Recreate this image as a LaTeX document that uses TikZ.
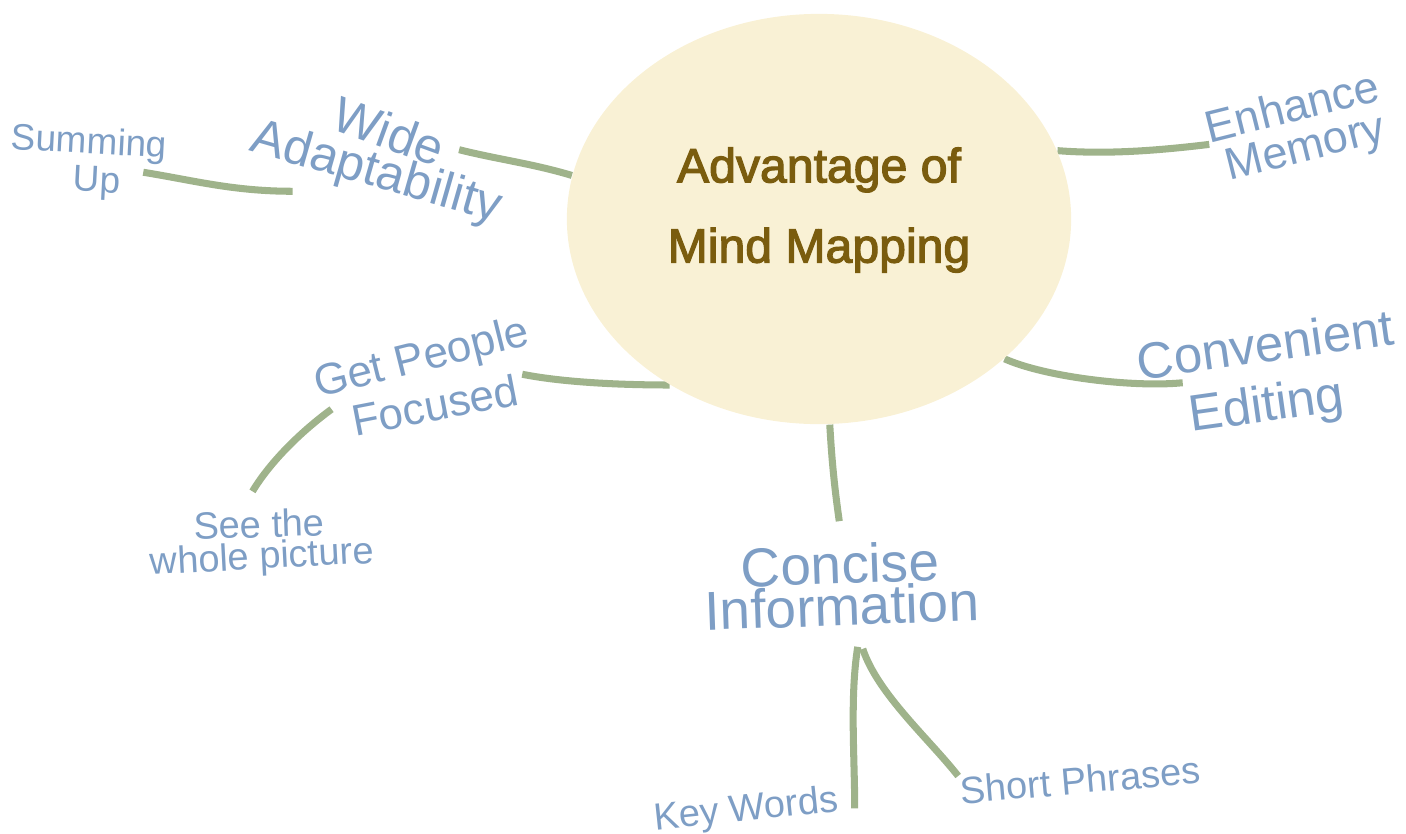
\documentclass[tikz,border=0pt]{standalone}
\usepackage{fontspec}
\setmainfont{Liberation Sans}
\newfontfamily\titlefont{Liberation Sans}[FakeBold=2.5]
\usetikzlibrary{shapes.geometric, backgrounds}
\definecolor{labelblue}{RGB}{126,158,197}
\definecolor{linkgreen}{RGB}{159,179,139}
\definecolor{hubfill}{RGB}{249,241,213}
\definecolor{titlebrown}{RGB}{122,92,14}
\tikzstyle{hubnode}=[ellipse, fill=hubfill, minimum width=5.04cm, minimum height=4.10cm, inner sep=0pt]
\tikzstyle{titletext}=[text=titlebrown, align=center, inner sep=0pt, font=\titlefont\fontsize{13.7}{22.8}\selectfont]
\tikzstyle{linkpath}=[draw=linkgreen, line width=2pt]
\tikzset{
    branchtext/.style={text=labelblue, inner sep=0pt, font=\fontsize{#1}{#1}\selectfont}
}

\begin{document}
\begin{tikzpicture}[x=0.01cm, y=-0.01cm]
    \useasboundingbox (0,0) rectangle (1406,833);

    \node[hubnode] (hub) at (819,219) {};
    \node[titletext] (title) at (819,210) {Advantage of\\Mind Mapping};

    % main branches
    \node[branchtext=14.2, rotate=-20] (wide) at (389,131) {Wide};
    \node[branchtext=14.2, rotate=-16] (adapt) at (376,174) {Adaptability};
    \node[branchtext=12.8, rotate=14] (enhance) at (1292,106) {Enhance};
    \node[branchtext=12.8, rotate=14] (memory) at (1306,150) {Memory};
    \node[branchtext=14.5, rotate=8] (convenient) at (1265,344) {Convenient};
    \node[branchtext=14.5, rotate=8] (editing) at (1267,408) {Editing};
    \node[branchtext=12.5, rotate=14] (getpeople) at (422,360) {Get People};
    \node[branchtext=12.5, rotate=11] (focused) at (435,405) {Focused};
    \node[branchtext=15.6, rotate=2] (concise) at (840,564) {Concise};
    \node[branchtext=15.6, rotate=2] (info) at (842,606) {Information};

    % sub branches
    \node[branchtext=10.5, rotate=-3] (summing) at (89,144) {Summing};
    \node[branchtext=10.5, rotate=-3] (up) at (97,183) {Up};
    \node[branchtext=10.8, rotate=2] (seethe) at (259,524) {See the};
    \node[branchtext=10.8, rotate=3] (whole) at (262,559) {whole picture};
    \node[branchtext=10.8, rotate=6] (keywords) at (746,811) {Key Words};
    \node[branchtext=10.8, rotate=5] (phrases) at (1080,780) {Short Phrases};

    \begin{scope}[on background layer]
        \draw[linkpath] (hub.170) .. controls +(-40,-12) and +(40,10) .. ([shift={(16,-1)}]wide.east);
        \draw[linkpath] ([shift={(48,30)}]adapt.south west) .. controls +(-60,0) and +(50,8) .. ([shift={(22,-12)}]up.east);
        \draw[linkpath] (hub.16) .. controls +(50,4) and +(-50,6) .. (enhance.south west);
        \draw[linkpath] (hub.-37.5) .. controls +(40,18) and +(-50,5) .. ([shift={(-3,-12)}]editing.north west);
        \draw[linkpath] (hub.228) .. controls +(-50,0) and +(40,8) .. ([shift={(7,2)}]focused.north east);
        \draw[linkpath] ([shift={(-20,-12)}]focused.west) .. controls +(-30,22) and +(18,-30) .. ([shift={(-6,-18)}]seethe.north);
        \draw[linkpath] (hub.-87) .. controls +(2,35) and +(-5,-35) .. ([shift={(0,-22)}]concise.north);
        \draw[linkpath] ([shift={(15,20)}]info.south) .. controls +(-8,50) and +(0,-50) .. ([shift={(16,7)}]keywords.east);
        \draw[linkpath] ([shift={(20,22)}]info.south) .. controls +(15,45) and +(-30,-38) .. (phrases.north west);
    \end{scope}
\end{tikzpicture}
\end{document}
